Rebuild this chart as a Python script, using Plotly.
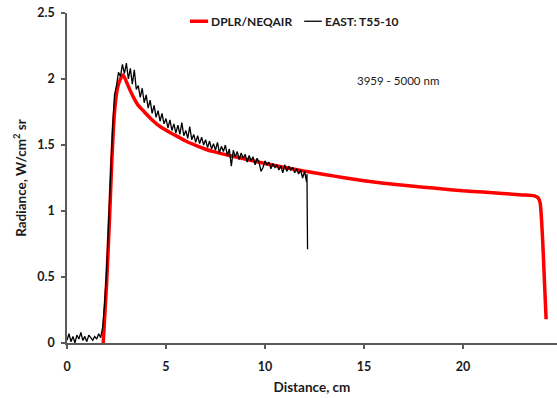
import plotly.graph_objects as go

# DPLR/NEQAIR simulation (red)
dplr_x = [1.83, 2.0, 2.15, 2.27, 2.4, 2.55, 2.7, 2.83, 3.0, 3.2, 3.4, 3.6, 3.85, 4.1, 4.3, 4.7,
          5.2, 5.7, 6.0, 6.5, 7.0, 7.4, 8.2, 9.1, 10.0, 11.0, 12.0, 12.4, 13.0, 14.0, 15.0,
          16.0, 17.0, 18.0, 19.0, 20.0, 21.0, 22.0, 23.0, 23.6, 23.8, 23.9, 23.97, 24.05, 24.12, 24.2]
dplr_y = [0.0, 0.45, 0.95, 1.40, 1.75, 1.93, 2.00, 2.03, 1.98, 1.91, 1.85, 1.80, 1.76, 1.72, 1.69, 1.64,
          1.595, 1.555, 1.53, 1.497, 1.468, 1.45, 1.42, 1.39, 1.36, 1.33, 1.302, 1.292, 1.277, 1.252, 1.229,
          1.21, 1.195, 1.18, 1.167, 1.153, 1.143, 1.133, 1.122, 1.115, 1.10, 1.06, 0.93, 0.70, 0.45, 0.18]

# EAST shot T55-10 measurement (black)
east_x = [0.0, 0.1, 0.2, 0.3, 0.4, 0.5, 0.6, 0.7, 0.8, 0.9, 1.0, 1.1, 1.2, 1.3, 1.4, 1.5, 1.6, 1.7,
          1.8, 1.9, 2.0, 2.1, 2.2, 2.3, 2.4, 2.5, 2.6, 2.7, 2.8, 2.9, 3.0, 3.1, 3.2, 3.3, 3.4, 3.5,
          3.6, 3.7, 3.8, 3.9, 4.0, 4.1, 4.2, 4.3, 4.4, 4.5, 4.6, 4.7, 4.8, 4.9, 5.0, 5.1, 5.2, 5.3,
          5.4, 5.5, 5.6, 5.7, 5.8, 5.9, 6.0, 6.1, 6.2, 6.3, 6.4, 6.5, 6.6, 6.7, 6.8, 6.9, 7.0, 7.1,
          7.2, 7.3, 7.4, 7.5, 7.6, 7.7, 7.8, 7.9, 8.0, 8.1, 8.2, 8.3, 8.4, 8.5, 8.6, 8.7, 8.8, 8.9,
          9.0, 9.1, 9.2, 9.3, 9.4, 9.5, 9.6, 9.7, 9.8, 9.9, 10.0, 10.1, 10.2, 10.3, 10.4, 10.5, 10.6,
          10.7, 10.8, 10.9, 11.0, 11.1, 11.2, 11.3, 11.4, 11.5, 11.6, 11.7, 11.8, 11.9, 12.0, 12.05,
          12.1, 12.12, 12.15]
east_y = [0.02, 0.07, 0.01, 0.05, 0.00, 0.06, 0.03, 0.08, 0.02, 0.05, 0.01, 0.06, 0.04, 0.02, 0.05, 0.03, 0.07, 0.04,
          0.12, 0.30, 0.55, 0.95, 1.30, 1.62, 1.88, 1.95, 2.05, 2.02, 2.11, 2.04, 2.12, 2.00, 2.08, 1.96, 2.07, 1.92,
          1.95, 1.86, 1.93, 1.82, 1.88, 1.78, 1.84, 1.74, 1.80, 1.71, 1.76, 1.68, 1.74, 1.66, 1.70, 1.63, 1.69, 1.61,
          1.66, 1.59, 1.65, 1.58, 1.67, 1.57, 1.61, 1.55, 1.64, 1.54, 1.58, 1.52, 1.57, 1.51, 1.56, 1.50, 1.54, 1.48,
          1.53, 1.47, 1.51, 1.46, 1.52, 1.44, 1.49, 1.45, 1.50, 1.42, 1.47, 1.34, 1.46, 1.41, 1.45, 1.39, 1.44, 1.40,
          1.43, 1.37, 1.42, 1.38, 1.41, 1.35, 1.40, 1.37, 1.30, 1.33, 1.38, 1.35, 1.37, 1.32, 1.36, 1.33, 1.35,
          1.31, 1.34, 1.29, 1.35, 1.30, 1.34, 1.31, 1.33, 1.29, 1.32, 1.28, 1.31, 1.25, 1.30, 1.27,
          1.22, 1.28, 0.71]

x_ticks = [0, 5, 10, 15, 20]
y_ticks = [0, 0.5, 1, 1.5, 2, 2.5]

series_names = ["DPLR/NEQAIR", "EAST: T55-10"]
series_colors = ["#ff0000", "#000000"]

FONT = "Lato, 'Open Sans', sans-serif"
TXT = "#1a1a1a"

fig = go.Figure()
fig.add_trace(go.Scatter(x=dplr_x, y=dplr_y, mode="lines", name=series_names[0],
                         line=dict(color=series_colors[0], width=3.5, shape="spline", smoothing=0.6),
                         showlegend=False))
fig.add_trace(go.Scatter(x=east_x, y=east_y, mode="lines", name=series_names[1],
                         line=dict(color=series_colors[1], width=1.3),
                         showlegend=False))

axis_common = dict(showgrid=False, zeroline=False, showline=True, linecolor="#5a5a5a", linewidth=1.5,
                   ticks="outside", tickcolor="#5a5a5a", tickwidth=1.5, ticklen=4,
                   tickfont=dict(family=FONT, size=12.5, color=TXT, weight="bold"))

fig.update_xaxes(range=[0, 24.75], tickvals=x_ticks, ticklabelstandoff=7,
                 title=dict(text="<b>Distance, cm</b>", font=dict(family=FONT, size=13.5, color=TXT), standoff=10),
                 **axis_common)
fig.update_yaxes(range=[0, 2.5], tickvals=y_ticks, ticklabelstandoff=4,
                 title=dict(text="<b>Radiance, W/cm<sup>2</sup> sr</b>", font=dict(family=FONT, size=13.5, color=TXT), standoff=8),
                 **axis_common)

fig.add_annotation(text="3959 - 5000 nm", x=0.676, y=0.794, xref="paper", yref="paper",
                   xanchor="center", yanchor="middle",
                   showarrow=False, font=dict(family=FONT, size=11.5, color=TXT))

# manual legend (line sample + label)
legend_line_x = [(0.251, 0.288), (0.484, 0.520)]
legend_text_x = [0.290, 0.522]
legend_y = 0.975
for name, col, (x0, x1), tx, w in zip(series_names, series_colors, legend_line_x, legend_text_x, [3.5, 1.3]):
    fig.add_shape(type="line", xref="paper", yref="paper", x0=x0, x1=x1, y0=legend_y, y1=legend_y,
                  line=dict(color=col, width=w))
    fig.add_annotation(text="<b>" + name + "</b>", x=tx, y=legend_y, xref="paper", yref="paper",
                       xanchor="left", yanchor="middle", showarrow=False,
                       font=dict(family=FONT, size=12, color=TXT))

fig.update_layout(
    width=557, height=398,
    margin=dict(l=67, r=0, t=13, b=55),
    plot_bgcolor="white", paper_bgcolor="white",
    showlegend=False,
)

fig.write_html("out.html")
